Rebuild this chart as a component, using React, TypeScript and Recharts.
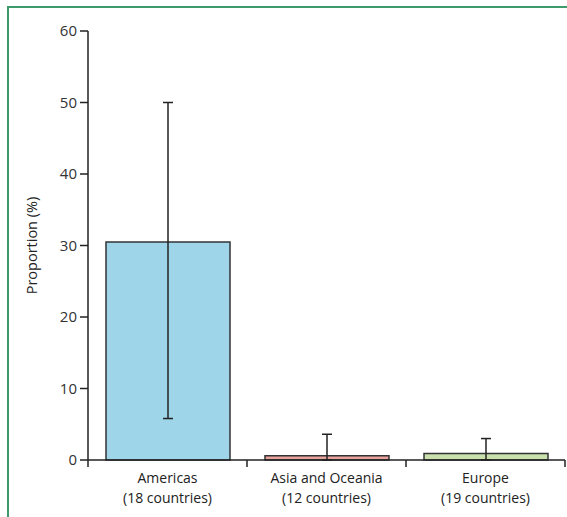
import React from "react";
import { BarChart, Bar, XAxis, YAxis, ErrorBar, Cell } from "recharts";

const regions = ["Americas", "Asia and Oceania", "Europe"];
const countries = ["(18 countries)", "(12 countries)", "(19 countries)"];
const proportions = [30.5, 0.6, 0.9];
const lowerCI = [5.8, 0, 0];
const upperCI = [50, 3.6, 3.0];
const barColors = ["#9ed5e8", "#e8a39f", "#c9e0ad"];
const yTicks = [0, 10, 20, 30, 40, 50, 60];

const data = regions.map((r, i) => ({
  name: r,
  sub: countries[i],
  value: proportions[i],
  err: [proportions[i] - lowerCI[i], upperCI[i] - proportions[i]],
}));

const FONT = "'Open Sans', 'Noto Sans', sans-serif";

const CatTick = (props: any) => {
  const { x, y, payload, index } = props;
  const half = payload && payload.offset ? payload.offset : 0;
  const isLast = index === data.length - 1;
  return (
    <g>
      <line x1={x - half} x2={x - half} y1={y} y2={y + 7} stroke="#222" strokeWidth={1.5} />
      {isLast && <line x1={x + half} x2={x + half} y1={y} y2={y + 7} stroke="#222" strokeWidth={1.5} />}
      <text x={x} y={y} textAnchor="middle" fontFamily={FONT} fontSize={14} fill="#222">
        <tspan x={x} dy={23}>{payload.value}</tspan>
        <tspan x={x} dy={19.5}>{countries[index]}</tspan>
      </text>
    </g>
  );
};

export default function App() {
  return (
    <div style={{ position: "absolute", left: 0, top: 0, width: 567, height: 517, background: "#fff" }}>
      <div
        style={{
          position: "absolute",
          left: 7,
          top: 6,
          width: 560,
          height: 511,
          borderTop: "2px solid #3d9a6b",
          borderLeft: "2px solid #3d9a6b",
          boxSizing: "border-box",
        }}
      />
      <div style={{ position: "absolute", left: 0, top: 0 }}>
        <BarChart
          width={567}
          height={517}
          data={data}
          margin={{ top: 31, right: 2, left: 0, bottom: 0 }}
          barSize={124}
        >
          <XAxis
            dataKey="name"
            type="category"
            tick={<CatTick />}
            tickLine={false}
            tickSize={0}
            tickMargin={0}
            axisLine={{ stroke: "#222", strokeWidth: 1.5 }}
            height={57}
            interval={0}
          />
          <YAxis
            width={88}
            domain={[0, 60]}
            ticks={yTicks}
            tickSize={8}
            tickMargin={3}
            axisLine={{ stroke: "#222", strokeWidth: 1.5 }}
            tickLine={{ stroke: "#222", strokeWidth: 1.5 }}
            tick={{ fontFamily: FONT, fontSize: 15, fill: "#333" }}
            label={{
              value: "Proportion (%)",
              angle: -90,
              position: "insideLeft",
              dx: 27,
              dy: 0,
              style: { fontFamily: FONT, fontSize: 14.5, fill: "#222", textAnchor: "middle" },
            }}
          />
          <Bar dataKey="value" stroke="#333" strokeWidth={1.5} isAnimationActive={false}>
            {data.map((d, i) => (
              <Cell key={d.name} fill={barColors[i]} />
            ))}
            <ErrorBar dataKey="err" direction="y" width={5} stroke="#222" strokeWidth={1.5} />
          </Bar>
        </BarChart>
      </div>
    </div>
  );
}
